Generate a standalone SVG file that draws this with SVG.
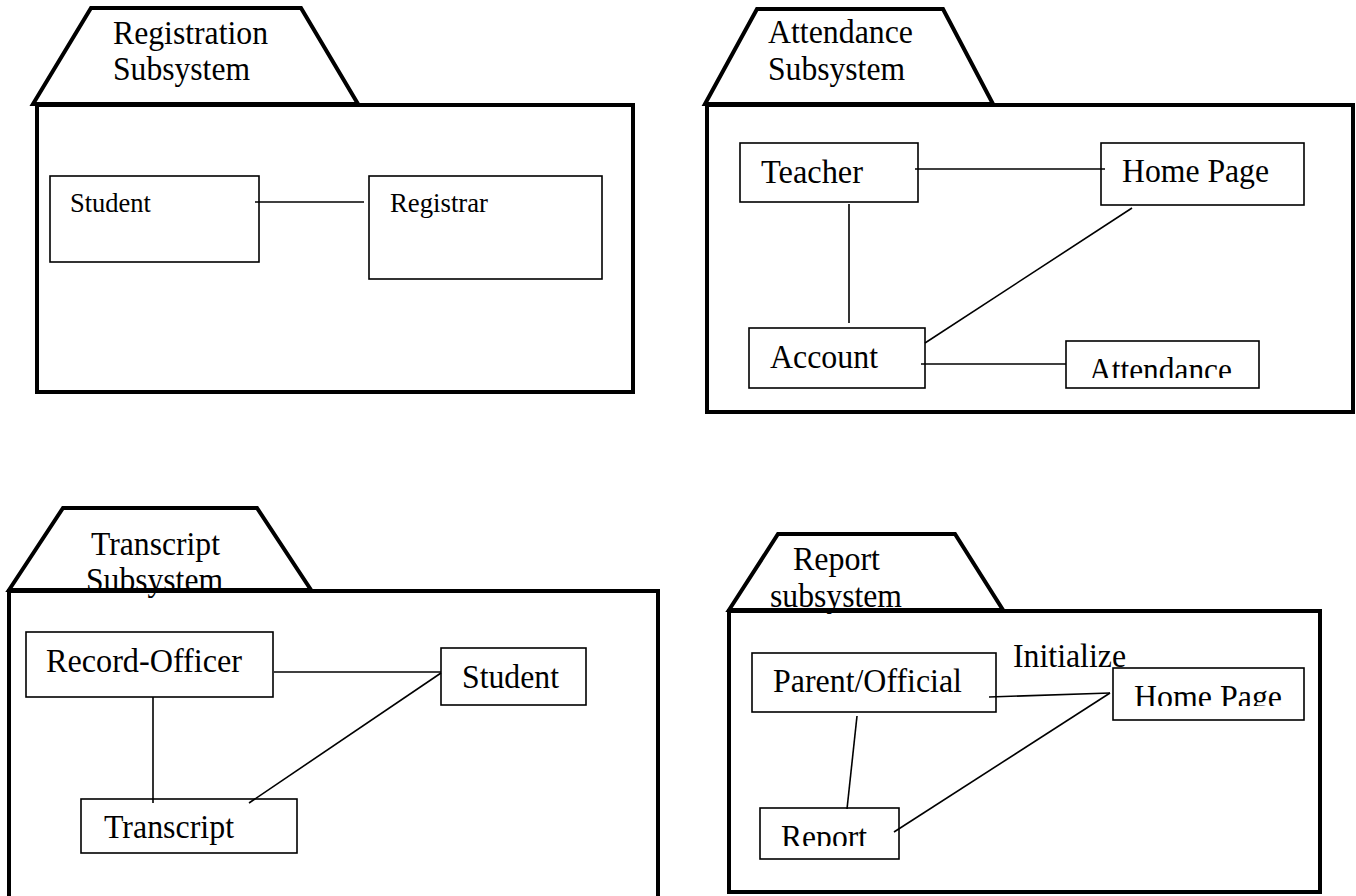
<svg xmlns="http://www.w3.org/2000/svg" width="1356" height="896" viewBox="0 0 1356 896">
<style>
.pkg{fill:none;stroke:#000;stroke-width:4;stroke-linejoin:miter}
.box{fill:none;stroke:#000;stroke-width:1.6}
.ln{stroke:#000;stroke-width:1.6;fill:none}
.t{font-family:"Liberation Serif","Times New Roman",serif;font-size:33px;fill:#000}
.ts{font-family:"Liberation Serif","Times New Roman",serif;font-size:27px;fill:#000}
</style>
<defs>
<clipPath id="c1"><rect x="1066" y="340" width="194" height="38"/></clipPath>
<clipPath id="c2"><rect x="1113" y="668" width="192" height="38"/></clipPath>
<clipPath id="c3"><rect x="760" y="808" width="140" height="38"/></clipPath>
</defs>
<rect width="1356" height="896" fill="#fff"/>

<g id="pkg-registration">
<polygon class="pkg" points="33,104 91,8 301,8 358,104"/>
<text class="t" x="113" y="44" textLength="155" lengthAdjust="spacingAndGlyphs">Registration</text>
<text class="t" x="113" y="80" textLength="137" lengthAdjust="spacingAndGlyphs">Subsystem</text>
<rect class="pkg" x="37" y="105" width="596" height="287"/>
</g>
<g id="reg-student">
<rect class="box" x="50" y="176" width="209" height="86"/>
<text class="ts" x="70" y="212" textLength="81" lengthAdjust="spacingAndGlyphs">Student</text>
</g>
<g id="reg-registrar">
<rect class="box" x="369" y="176" width="233" height="103"/>
<text class="ts" x="390" y="212" textLength="98" lengthAdjust="spacingAndGlyphs">Registrar</text>
</g>

<g id="pkg-attendance">
<polygon class="pkg" points="705,104 757,9 943,9 993,104"/>
<text class="t" x="768" y="43" textLength="145" lengthAdjust="spacingAndGlyphs">Attendance</text>
<text class="t" x="768" y="80" textLength="137" lengthAdjust="spacingAndGlyphs">Subsystem</text>
<rect class="pkg" x="707" y="105" width="646" height="307"/>
</g>
<g id="att-teacher">
<rect class="box" x="740" y="143" width="178" height="59"/>
<text class="t" x="761" y="183" textLength="102" lengthAdjust="spacingAndGlyphs">Teacher</text>
</g>
<g id="att-homepage">
<rect class="box" x="1101" y="143" width="203" height="62"/>
<text class="t" x="1122" y="182" textLength="147" lengthAdjust="spacingAndGlyphs">Home Page</text>
</g>
<g id="att-account">
<rect class="box" x="749" y="328" width="176" height="60"/>
<text class="t" x="770" y="368" textLength="108" lengthAdjust="spacingAndGlyphs">Account</text>
</g>
<g id="att-attendance">
<rect class="box" x="1066" y="341" width="193" height="47"/>
<text class="t" x="1089" y="381" textLength="143" lengthAdjust="spacingAndGlyphs" clip-path="url(#c1)">Attendance</text>
</g>

<g id="pkg-transcript">
<polygon class="pkg" points="9,590 63,508 257,508 311,590"/>
<text class="t" x="91" y="555" textLength="129" lengthAdjust="spacingAndGlyphs">Transcript</text>
<text class="t" x="86" y="591" textLength="137" lengthAdjust="spacingAndGlyphs">Subsystem</text>
<rect class="pkg" x="9" y="591" width="649" height="330"/>
</g>
<g id="tr-recordofficer">
<rect class="box" x="26" y="632" width="247" height="65"/>
<text class="t" x="46" y="672" textLength="196" lengthAdjust="spacingAndGlyphs">Record-Officer</text>
</g>
<g id="tr-student">
<rect class="box" x="441" y="648" width="145" height="57"/>
<text class="t" x="462" y="688" textLength="97" lengthAdjust="spacingAndGlyphs">Student</text>
</g>
<g id="tr-transcript">
<rect class="box" x="81" y="799" width="216" height="54"/>
<text class="t" x="104" y="838" textLength="130" lengthAdjust="spacingAndGlyphs">Transcript</text>
</g>

<g id="pkg-report">
<polygon class="pkg" points="729,610 778,534 955,534 1003,610"/>
<text class="t" x="793" y="570" textLength="87" lengthAdjust="spacingAndGlyphs">Report</text>
<text class="t" x="770" y="607" textLength="132" lengthAdjust="spacingAndGlyphs">subsystem</text>
<rect class="pkg" x="729" y="611" width="591" height="281"/>
</g>
<g id="rp-parent">
<rect class="box" x="752" y="653" width="244" height="59"/>
<text class="t" x="773" y="692" textLength="189" lengthAdjust="spacingAndGlyphs">Parent/Official</text>
</g>
<g id="rp-homepage">
<rect class="box" x="1113" y="668" width="191" height="52"/>
<text class="t" x="1134" y="708" textLength="148" lengthAdjust="spacingAndGlyphs" clip-path="url(#c2)">Home Page</text>
</g>
<g id="rp-report">
<rect class="box" x="760" y="808" width="139" height="51"/>
<text class="t" x="781" y="848" textLength="86" lengthAdjust="spacingAndGlyphs" clip-path="url(#c3)">Report</text>
</g>

<g id="connectors">
<line class="ln" x1="255" y1="202" x2="364" y2="202"/>
<line class="ln" x1="915" y1="169" x2="1105" y2="169"/>
<line class="ln" x1="849" y1="204" x2="849" y2="323"/>
<line class="ln" x1="1132" y1="208" x2="925" y2="343"/>
<line class="ln" x1="921" y1="364" x2="1066" y2="364"/>
<line class="ln" x1="274" y1="672" x2="441" y2="672"/>
<line class="ln" x1="153" y1="697" x2="153" y2="803"/>
<line class="ln" x1="441" y1="673" x2="249" y2="803"/>
<line class="ln" x1="989" y1="697" x2="1110" y2="693"/>
<line class="ln" x1="857" y1="716" x2="847" y2="809"/>
<line class="ln" x1="1110" y1="693" x2="894" y2="832"/>
<text class="t" x="1013" y="667" textLength="113" lengthAdjust="spacingAndGlyphs">Initialize</text>
</g>
</svg>
